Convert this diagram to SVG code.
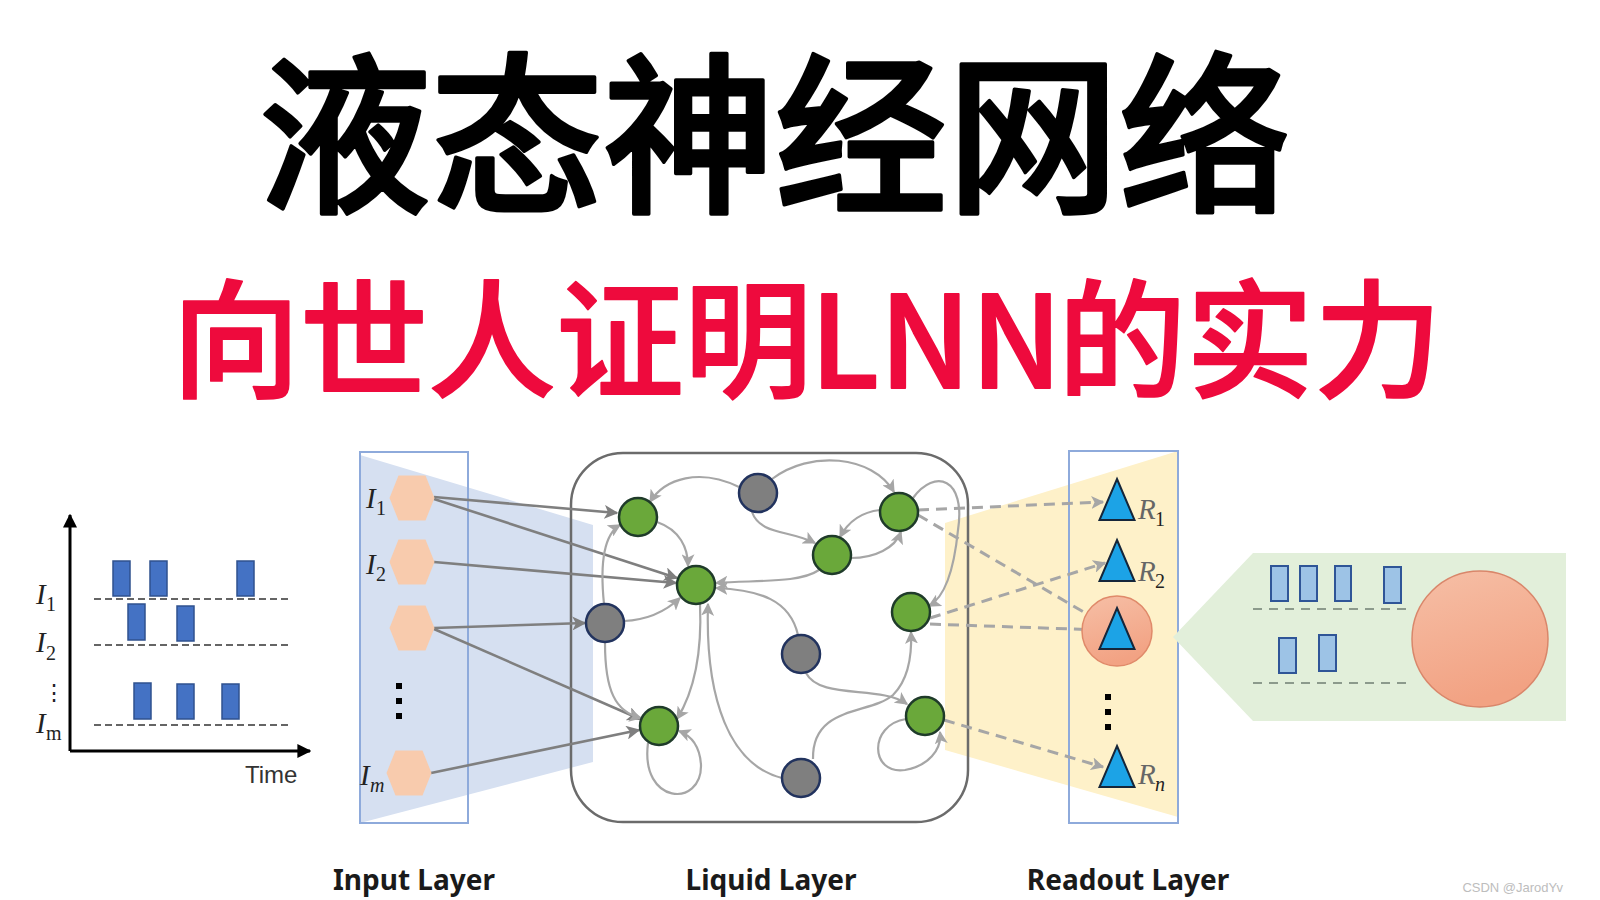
<svg xmlns="http://www.w3.org/2000/svg" width="1600" height="900" viewBox="0 0 1600 900">
<style>
  .title{font-family:"Noto Sans CJK SC","Noto Sans",sans-serif;font-weight:500;stroke-linejoin:round;}
  .math{font-family:"Liberation Serif","DejaVu Serif",serif;font-style:italic;}
  .sub{font-family:"Liberation Serif","DejaVu Serif",serif;font-style:normal;}
  .lbl{font-family:"Noto Sans","Liberation Sans",sans-serif;font-weight:700;font-size:28px;fill:#1a1a1a;text-anchor:middle;}
  .bar{fill:#4472c4;stroke:#2f528f;stroke-width:1.5;}
  .bar2{fill:#9dc3e6;stroke:#2f5597;stroke-width:2;}
  .dash{stroke:#333;stroke-width:1.6;stroke-dasharray:7 4;fill:none;}
  .dash2{stroke:#8c9a8c;stroke-width:2;stroke-dasharray:9 7;fill:none;}
  .green{fill:#6aa83a;stroke:#1f3b2a;stroke-width:2.5;}
  .gray{fill:#7f7f7f;stroke:#22335e;stroke-width:2.5;}
  .hex{fill:#f8cbad;}
  .tri{fill:#1ca3e6;stroke:#15263a;stroke-width:2;}
  .e{fill:none;stroke:#a6a6a6;stroke-width:2.2;marker-end:url(#ah);}
  .ein{fill:none;stroke:#7f7f7f;stroke-width:2.6;marker-end:url(#ahd);}
  .ed{fill:none;stroke:#a6a6a6;stroke-width:3;stroke-dasharray:11 7;marker-end:url(#ah);}
</style>
<defs>
  <marker id="ah" viewBox="0 0 10 10" refX="9" refY="5" markerWidth="13" markerHeight="13" markerUnits="userSpaceOnUse" orient="auto">
    <path d="M0,0 L10,5 L0,10 L2.5,5 z" fill="#a6a6a6"/>
  </marker>
  <marker id="ahd" viewBox="0 0 10 10" refX="9" refY="5" markerWidth="14" markerHeight="14" markerUnits="userSpaceOnUse" orient="auto">
    <path d="M0,0 L10,5 L0,10 L2.5,5 z" fill="#7f7f7f"/>
  </marker>
  <marker id="axa" viewBox="0 0 10 10" refX="9" refY="5" markerWidth="14" markerHeight="14" markerUnits="userSpaceOnUse" orient="auto">
    <path d="M0,0 L10,5 L0,10 z" fill="#000"/>
  </marker>
  <polygon id="hexs" points="-22.5,0 -13.5,-22.5 13.5,-22.5 22.5,0 13.5,22.5 -13.5,22.5"/>
  <polygon id="tris" points="0,-21 17.5,20 -17.5,20"/>
  <linearGradient id="og" x1="0" y1="0" x2="0.3" y2="1">
    <stop offset="0" stop-color="#f6bfa6"/>
    <stop offset="1" stop-color="#f2a283"/>
  </linearGradient>
</defs>
<rect width="1600" height="900" fill="#ffffff"/>

<g id="title">
  <text class="title" x="775" y="199" font-size="172" text-anchor="middle" fill="#000" stroke="#000" stroke-width="3.5">液态神经网络</text>
</g>
<g id="subtitle">
  <text class="title" y="388" font-size="128" fill="#ee0a3d" stroke="#ee0a3d" stroke-width="1.8"><tspan x="172">向世人证明</tspan><tspan x="810" textLength="252" lengthAdjust="spacingAndGlyphs">LNN</tspan><tspan x="1058">的实力</tspan></text>
</g>

<g id="spike-chart">
  <line x1="70" y1="751" x2="70" y2="515" stroke="#000" stroke-width="3" marker-end="url(#axa)"/>
  <line x1="70" y1="751" x2="310" y2="751" stroke="#000" stroke-width="3" marker-end="url(#axa)"/>
  <line class="dash" x1="94" y1="599" x2="290" y2="599"/>
  <line class="dash" x1="94" y1="645" x2="290" y2="645"/>
  <line class="dash" x1="94" y1="725" x2="290" y2="725"/>
  <rect class="bar" x="113" y="561" width="17" height="35"/>
  <rect class="bar" x="150" y="561" width="17" height="35"/>
  <rect class="bar" x="237" y="561" width="17" height="35"/>
  <rect class="bar" x="128" y="604" width="17" height="36"/>
  <rect class="bar" x="177" y="606" width="17" height="35"/>
  <rect class="bar" x="134" y="683" width="17" height="36"/>
  <rect class="bar" x="177" y="684" width="17" height="35"/>
  <rect class="bar" x="222" y="684" width="17" height="35"/>
  <text class="math" x="36" y="604" font-size="29" fill="#222">I</text>
  <text class="sub" x="46" y="611" font-size="20" fill="#222">1</text>
  <text class="math" x="36" y="652" font-size="29" fill="#222">I</text>
  <text class="sub" x="46" y="660" font-size="20" fill="#222">2</text>
  <text class="sub" x="43" y="700" font-size="22" fill="#222">⋮</text>
  <text class="math" x="36" y="733" font-size="29" fill="#222">I</text>
  <text class="sub" x="46" y="740" font-size="20" fill="#222">m</text>
  <text x="245" y="783" font-family="Liberation Sans, Arial, sans-serif" font-size="24" fill="#333">Time</text>
</g>

<g id="input-layer">
  <polygon points="360,455 593,525 593,762 360,823" fill="#d6e0f1"/>
  <rect x="360" y="452" width="108" height="371" fill="none" stroke="#8eaadb" stroke-width="2"/>
</g>
<g id="readout-layer">
  <polygon points="945,523 1178,451 1178,817 945,750" fill="#fef1c9"/>
  <rect x="1069" y="451" width="109" height="372" fill="none" stroke="#8eaadb" stroke-width="2"/>
</g>
<g id="liquid-layer">
  <rect x="571" y="453" width="397" height="369" rx="52" ry="52" fill="none" stroke="#6b6b6b" stroke-width="2.5"/>
</g>

<g id="connectors">
  <path class="ein" d="M434,497 L617,513"/>
  <path class="ein" d="M434,499 L677,578"/>
  <path class="ein" d="M434,562 L676,583"/>
  <path class="ein" d="M434,628 L585,623"/>
  <path class="ein" d="M434,629 L640,719"/>
  <path class="ein" d="M431,773 L639,730"/>
  <path class="e" d="M739,487 C700,468 665,478 650,502"/>
  <path class="e" d="M772,479 C810,450 872,455 894,492"/>
  <path class="e" d="M752,512 C760,535 790,530 815,543"/>
  <path class="e" d="M880,510 C862,512 848,522 840,537"/>
  <path class="e" d="M851,558 C875,558 895,548 901,532"/>
  <path class="e" d="M913,498 C935,468 966,478 958,530 C954,570 945,597 929,606"/>
  <path class="e" d="M819,570 C800,583 760,580 716,583"/>
  <path class="e" d="M657,522 C680,530 688,548 688,566"/>
  <path class="e" d="M624,621 C648,620 665,612 680,598"/>
  <path class="e" d="M604,604 C600,565 603,535 620,525"/>
  <path class="e" d="M605,643 C605,690 615,712 641,718"/>
  <path class="e" d="M700,604 C702,650 695,690 677,719"/>
  <path class="e" d="M782,778 C730,765 705,700 708,604"/>
  <path class="e" d="M648,743 C640,805 702,808 701,765 C700,748 692,736 679,731"/>
  <path class="e" d="M798,635 C790,600 760,590 716,588"/>
  <path class="e" d="M806,673 C820,700 880,685 907,704"/>
  <path class="e" d="M813,759 C812,705 870,715 893,695 C908,680 912,655 911,632"/>
  <path class="e" d="M906,719 C868,725 870,775 905,770 C928,766 942,750 940,732"/>
  <path class="ed" d="M918,510 L1103,502"/>
  <path class="ed" d="M918,515 L1104,624"/>
  <path class="ed" d="M930,618 L1105,563"/>
  <path class="ed" d="M930,624 L1101,630"/>
  <path class="ed" d="M944,720 L1103,767"/>
</g>

<g id="input-nodes">
  <g id="in-1"><use href="#hexs" x="412" y="498" class="hex"/><text class="math" x="366" y="508" font-size="29" fill="#222">I</text><text class="sub" x="376" y="515" font-size="20" fill="#222">1</text></g>
  <g id="in-2"><use href="#hexs" x="412" y="562" class="hex"/><text class="math" x="366" y="574" font-size="29" fill="#222">I</text><text class="sub" x="376" y="581" font-size="20" fill="#222">2</text></g>
  <g id="in-3"><use href="#hexs" x="412" y="628" class="hex"/></g>
  <g id="in-dots"><rect x="396" y="683" width="6" height="6"/><rect x="396" y="698" width="6" height="6"/><rect x="396" y="713" width="6" height="6"/></g>
  <g id="in-m"><use href="#hexs" x="409" y="773" class="hex"/><text class="math" x="360" y="785" font-size="29" fill="#222">I</text><text class="math" x="370" y="792" font-size="20" fill="#222">m</text></g>
</g>

<g id="liquid-nodes">
  <g id="n1"><circle class="green" cx="638" cy="517" r="19"/></g>
  <g id="n2"><circle class="gray" cx="758" cy="493" r="19"/></g>
  <g id="n3"><circle class="green" cx="899" cy="512" r="19"/></g>
  <g id="n4"><circle class="green" cx="832" cy="555" r="19"/></g>
  <g id="n5"><circle class="green" cx="696" cy="585" r="19"/></g>
  <g id="n6"><circle class="gray" cx="605" cy="623" r="19"/></g>
  <g id="n7"><circle class="green" cx="911" cy="612" r="19"/></g>
  <g id="n8"><circle class="gray" cx="801" cy="654" r="19"/></g>
  <g id="n9"><circle class="green" cx="925" cy="716" r="19"/></g>
  <g id="n10"><circle class="green" cx="659" cy="726" r="19"/></g>
  <g id="n11"><circle class="gray" cx="801" cy="778" r="19"/></g>
</g>

<g id="readout-nodes">
  <g id="r1"><use href="#tris" x="1117" y="500" class="tri"/><text class="math" x="1138" y="519" font-size="29" fill="#666">R</text><text class="sub" x="1155" y="526" font-size="20" fill="#222">1</text></g>
  <g id="r2"><use href="#tris" x="1117" y="561" class="tri"/><text class="math" x="1138" y="581" font-size="29" fill="#666">R</text><text class="sub" x="1155" y="588" font-size="20" fill="#222">2</text></g>
  <g id="r3"><circle cx="1117" cy="631" r="35" fill="url(#og)" stroke="#e08a6a" stroke-width="1.5"/><use href="#tris" x="1117" y="629" class="tri"/></g>
  <g id="r-dots"><rect x="1105" y="694" width="6" height="6"/><rect x="1105" y="709" width="6" height="6"/><rect x="1105" y="724" width="6" height="6"/></g>
  <g id="rn"><use href="#tris" x="1117" y="767" class="tri"/><text class="math" x="1138" y="784" font-size="29" fill="#666">R</text><text class="math" x="1155" y="791" font-size="20" fill="#222">n</text></g>
</g>

<g id="zoom-panel">
  <polygon points="1173,637 1253,553 1566,553 1566,721 1253,721" fill="#e2efda"/>
  <line class="dash2" x1="1253" y1="609" x2="1410" y2="609"/>
  <line class="dash2" x1="1253" y1="683" x2="1410" y2="683"/>
  <rect class="bar2" x="1271" y="566" width="17" height="35"/>
  <rect class="bar2" x="1300" y="566" width="17" height="35"/>
  <rect class="bar2" x="1335" y="566" width="16" height="35"/>
  <rect class="bar2" x="1384" y="567" width="17" height="36"/>
  <rect class="bar2" x="1279" y="638" width="17" height="35"/>
  <rect class="bar2" x="1319" y="635" width="17" height="36"/>
  <circle cx="1480" cy="639" r="68" fill="url(#og)" stroke="#d9866a" stroke-width="1.5"/>
</g>

<g id="layer-labels">
  <text class="lbl" x="414" y="890">Input Layer</text>
  <text class="lbl" x="771" y="890">Liquid Layer</text>
  <text class="lbl" x="1128" y="890">Readout Layer</text>
</g>
<text x="1563" y="892" text-anchor="end" font-family="Liberation Sans, Arial, sans-serif" font-size="13" fill="#bdbdbd">CSDN @JarodYv</text>
</svg>
